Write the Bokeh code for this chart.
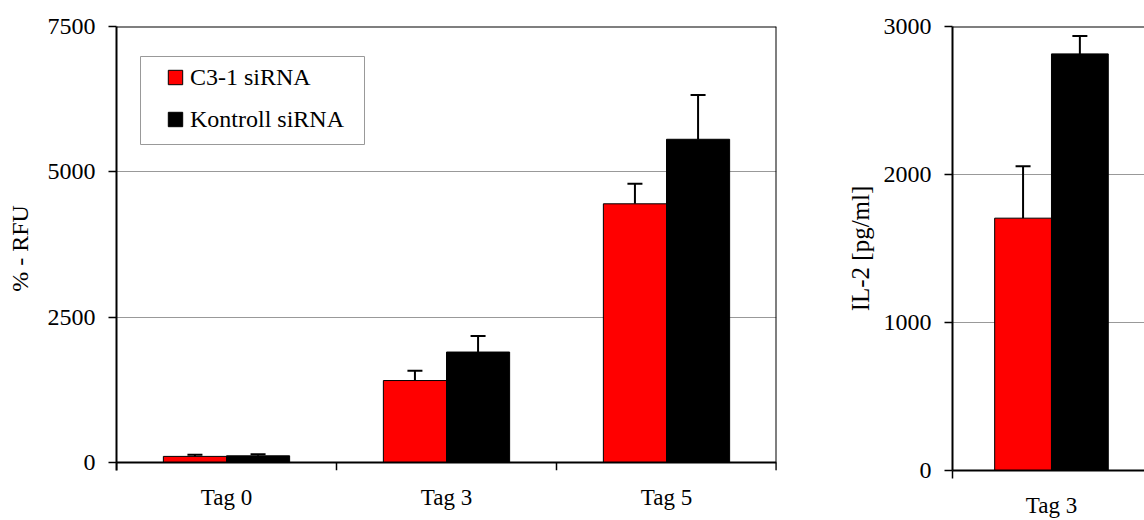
from bokeh.plotting import figure
from bokeh.layouts import row
from bokeh.models import (ColumnDataSource, Range1d, FixedTicker, Whisker, TeeHead,
                          Legend, LegendItem, BoxAnnotation, Span, LinearAxis)
from bokeh.embed import file_html
from bokeh.resources import INLINE

# ---------------- data ----------------
days_left = ["Tag 0", "Tag 3", "Tag 5"]
c3_rfu = [105, 1410, 4450]
c3_rfu_err = [30, 170, 345]
ctrl_rfu = [115, 1900, 5560]
ctrl_rfu_err = [25, 275, 760]
rfu_ticks = [0, 2500, 5000, 7500]

days_right = ["Tag 3"]
c3_il2 = [1705]
c3_il2_err = [350]
ctrl_il2 = [2815]
ctrl_il2_err = [120]
il2_ticks = [0, 1000, 2000, 3000]

series_labels = ["C3-1 siRNA", "Kontroll siRNA"]
series_colors = ["#ff0000", "#000000"]

FONT = "Liberation Serif"
BAR_W = 0.287
FRAME_H = 444          # both plot frames share the same height
LEFT_AXIS_LIFT = 8     # left chart: its zero line sits 8px above the frame bottom


def style_x_axis(ax, cats, standoff, labels, line):
    centres = [i + 0.5 for i in range(len(cats))]
    bounds = list(range(len(cats) + 1))
    ax.ticker = FixedTicker(ticks=centres if labels else [],
                            minor_ticks=bounds if line else [])
    if labels:
        ax.major_label_overrides = {c: t for c, t in zip(centres, cats)}
    ax.major_tick_line_color = None
    ax.major_tick_out = 0
    ax.major_tick_in = 0
    ax.minor_tick_in = 0
    if line:
        ax.minor_tick_line_color = "black"
        ax.minor_tick_line_width = 1.5
        ax.minor_tick_out = 8
        ax.axis_line_color = "black"
        ax.axis_line_width = 2
    else:
        ax.minor_tick_line_color = None
        ax.minor_tick_out = 0
        ax.axis_line_color = None
    ax.major_label_text_font = FONT
    ax.major_label_text_font_size = "23px"
    ax.major_label_text_color = "black"
    ax.major_label_standoff = standoff


def build(cats, means, errs, ticks, y_start, width, height, borders, x_end,
          y_label, y_label_size, y_label_standoff, x_label_standoff, right_edge):
    bl, br, bt, bb = borders
    p = figure(width=width, height=height, title=None,
               x_range=Range1d(0, x_end), y_range=Range1d(y_start, ticks[-1]),
               output_backend="svg", toolbar_location=None,
               x_axis_location=None,
               min_border_left=bl, min_border_right=br,
               min_border_top=bt, min_border_bottom=bb)
    p.background_fill_color = "white"
    p.border_fill_color = "white"
    p.outline_line_color = None
    p.add_layout(Span(location=ticks[-1], dimension="width",
                      line_color="black", line_width=2))
    if right_edge:
        p.add_layout(Span(location=x_end, dimension="height",
                          line_color="black", line_width=2))

    renderers = []
    for k, (m, e) in enumerate(zip(means, errs)):
        off = (k - 0.5) * BAR_W
        xs = [i + 0.5 + off for i in range(len(cats))]
        src = ColumnDataSource(dict(x=xs, top=m,
                                    upper=[a + b for a, b in zip(m, e)]))
        r = p.vbar(x="x", top="top", bottom=0, width=BAR_W, source=src,
                   fill_color=series_colors[k], line_color="black", line_width=1)
        p.add_layout(Whisker(source=src, base="x", lower="top", upper="upper",
                             dimension="height", line_color="black", line_width=2,
                             upper_head=TeeHead(size=15, line_width=2,
                                                line_color="black"),
                             lower_head=None))
        renderers.append(r)

    if y_start == 0:
        xa = LinearAxis()
        style_x_axis(xa, cats, x_label_standoff, True, True)
        p.add_layout(xa, "below")
    else:
        # labels hang from the frame bottom, the axis line sits at y = 0
        xl = LinearAxis()
        style_x_axis(xl, cats, x_label_standoff + 8 - LEFT_AXIS_LIFT, True, False)
        p.add_layout(xl, "below")
        xa = LinearAxis(fixed_location=0)
        style_x_axis(xa, cats, 0, False, True)
        p.add_layout(xa, "below")

    ya = p.yaxis[0]
    ya.ticker = FixedTicker(ticks=ticks)
    ya.axis_line_color = "black"
    ya.axis_line_width = 2
    ya.major_tick_line_color = "black"
    ya.major_tick_line_width = 1.5
    ya.major_tick_out = 8
    ya.major_tick_in = 0
    ya.minor_tick_line_color = None
    ya.major_label_text_font = FONT
    ya.major_label_text_font_size = "24px"
    ya.major_label_text_color = "black"
    ya.major_label_standoff = 13
    ya.axis_label = y_label
    ya.axis_label_text_font = FONT
    ya.axis_label_text_font_size = y_label_size
    ya.axis_label_text_font_style = "normal"
    ya.axis_label_text_color = "black"
    ya.axis_label_standoff = y_label_standoff

    p.xgrid.grid_line_color = None
    p.ygrid.ticker = FixedTicker(ticks=ticks)
    p.ygrid.grid_line_color = "#999999"
    p.ygrid.grid_line_width = 1
    return p, renderers


# left chart: 0 .. 7500 spans FRAME_H - LEFT_AXIS_LIFT pixels
rfu_start = -LEFT_AXIS_LIFT * rfu_ticks[-1] / (FRAME_H - LEFT_AXIS_LIFT)

p1, rs = build(days_left, [c3_rfu, ctrl_rfu], [c3_rfu_err, ctrl_rfu_err],
               rfu_ticks, rfu_start, 840, 520, (116, 64, 26, 50), 3,
               "% - RFU", "24px", 12, 14, True)

legend = Legend(items=[LegendItem(label=series_labels[k], renderers=[rs[k]])
                       for k in range(2)],
                location=(50, 337), padding=0, margin=0,
                border_line_color=None, background_fill_alpha=0,
                glyph_width=18, glyph_height=18, label_standoff=6,
                spacing=14, label_height=28,
                label_text_font=FONT, label_text_font_size="24px",
                label_text_color="black")
p1.add_layout(legend)
p1.add_layout(BoxAnnotation(left=140, right=364, top=56, bottom=144,
                            left_units="canvas", right_units="canvas",
                            top_units="canvas", bottom_units="canvas",
                            fill_alpha=0, line_color="#999999", line_width=1,
                            line_alpha=1))

p2, _ = build(days_right, [c3_il2, ctrl_il2], [c3_il2_err, ctrl_il2_err],
              il2_ticks, 0, 304, 520, (112, 0, 26, 50), 0.97,
              "IL-2 [pg/ml]", "25px", 7, 14, False)

layout = row(p1, p2)
open("out.html", "w").write(file_html(layout, INLINE))
